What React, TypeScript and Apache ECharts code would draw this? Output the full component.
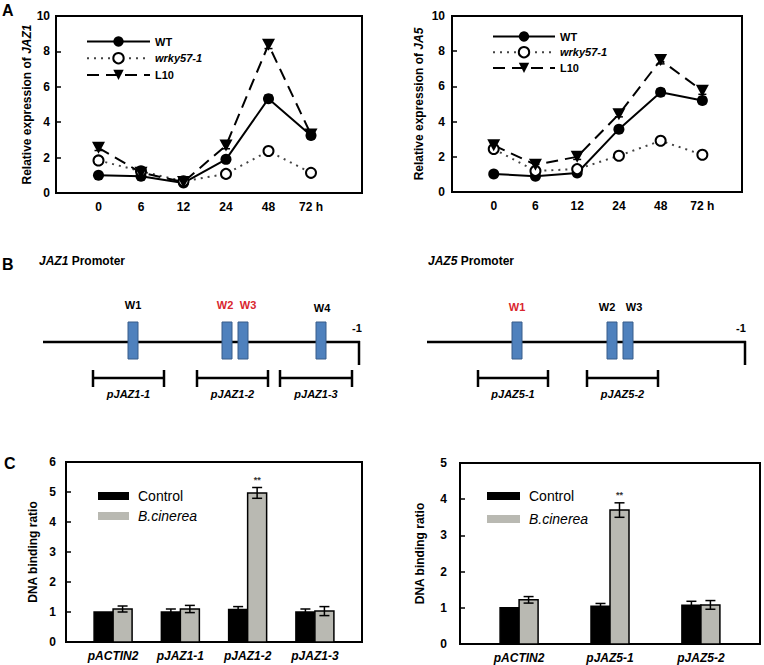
import React, { useEffect, useRef } from 'react';
import * as echarts from 'echarts';

const FONT = '"Liberation Sans", Arial, sans-serif';

// Panel A
const timeLabels = ['0', '6', '12', '24', '48', '72 h'];
const jaz1WT = [1.0, 0.95, 0.57, 1.9, 5.33, 3.25];
const jaz1WTErr = [0.05, 0.08, 0.06, 0.15, 0.2, 0.15];
const jaz1Wrky = [1.84, 1.23, 0.66, 1.08, 2.37, 1.14];
const jaz1WrkyErr = [0.2, 0.1, 0.05, 0.1, 0.18, 0.15];
const jaz1L10 = [2.55, 1.15, 0.62, 2.68, 8.38, 3.3];
const jaz1L10Err = [0.15, 0.1, 0.05, 0.18, 0.22, 0.15];

const jaz5WT = [1.02, 0.9, 1.08, 3.57, 5.67, 5.2];
const jaz5WTErr = [0.05, 0.06, 0.1, 0.12, 0.2, 0.18];
const jaz5Wrky = [2.44, 1.2, 1.3, 2.06, 2.91, 2.12];
const jaz5WrkyErr = [0.12, 0.12, 0.15, 0.08, 0.18, 0.15];
const jaz5L10 = [2.65, 1.55, 2.0, 4.42, 7.5, 5.75];
const jaz5L10Err = [0.15, 0.15, 0.15, 0.15, 0.22, 0.2];

// Panel C
const c1Categories = ['pACTIN2', 'pJAZ1-1', 'pJAZ1-2', 'pJAZ1-3'];
const c1Control = [1.0, 1.0, 1.08, 1.0];
const c1ControlErr = [0, 0.1, 0.1, 0.1];
const c1Bc = [1.1, 1.1, 4.97, 1.03];
const c1BcErr = [0.1, 0.12, 0.18, 0.15];
const c1Sig = ['', '', '**', ''];

const c2Categories = ['pACTIN2', 'pJAZ5-1', 'pJAZ5-2'];
const c2Control = [1.0, 1.04, 1.07];
const c2ControlErr = [0, 0.08, 0.11];
const c2Bc = [1.22, 3.7, 1.08];
const c2BcErr = [0.09, 0.2, 0.12];
const c2Sig = ['', '**', ''];

const TRI = 'path://M0,0L10,0L5,9Z';

function lineSeries(name: string, values: number[], idx: number, kind: string) {
  const base: any = {
    type: 'line',
    name,
    xAxisIndex: idx,
    yAxisIndex: idx,
    data: values.map((v, i) => [i, v]),
    z: 4,
    silent: true,
  };
  if (kind === 'wt') {
    return { ...base, symbol: 'circle', symbolSize: 11, itemStyle: { color: '#000' }, lineStyle: { color: '#000', width: 2, type: 'solid' } };
  }
  if (kind === 'wrky') {
    return { ...base, symbol: 'emptyCircle', symbolSize: 10, itemStyle: { color: '#000', borderWidth: 2 }, lineStyle: { color: '#444', width: 2, type: [2, 5] } };
  }
  return { ...base, symbol: TRI, symbolSize: [13, 12], itemStyle: { color: '#000' }, lineStyle: { color: '#000', width: 2, type: [12, 7] } };
}

function errSeries(values: number[], errs: number[], idx: number) {
  return {
    type: 'custom',
    xAxisIndex: idx,
    yAxisIndex: idx,
    silent: true,
    z: 3,
    data: values.map((v, i) => [i, v, errs[i]]),
    renderItem: (_p: any, api: any) => {
      const x = api.value(0), y = api.value(1), e = api.value(2);
      const hi = api.coord([x, y + e]);
      const lo = api.coord([x, y - e]);
      const w = 4;
      const st = { stroke: '#000', lineWidth: 1.5 };
      return {
        type: 'group',
        children: [
          { type: 'line', shape: { x1: hi[0], y1: hi[1], x2: lo[0], y2: lo[1] }, style: st },
          { type: 'line', shape: { x1: hi[0] - w, y1: hi[1], x2: hi[0] + w, y2: hi[1] }, style: st },
          { type: 'line', shape: { x1: lo[0] - w, y1: lo[1], x2: lo[0] + w, y2: lo[1] }, style: st },
        ],
      };
    },
  };
}

function barSeries(name: string, values: number[], errs: number[], sig: string[], idx: number, side: number, fill: string) {
  return {
    type: 'custom',
    name,
    xAxisIndex: idx,
    yAxisIndex: idx,
    silent: true,
    itemStyle: { color: fill },
    data: values.map((v, i) => [i, v, errs[i], i]),
    renderItem: (_p: any, api: any) => {
      const i = api.value(0), v = api.value(1), e = api.value(2);
      const base = api.coord([i, 0]);
      const top = api.coord([i, v]);
      const bw = 19;
      const x0 = side < 0 ? base[0] - bw : base[0];
      const cx = x0 + bw / 2;
      const children: any[] = [
        { type: 'rect', shape: { x: x0, y: top[1], width: bw, height: base[1] - top[1] }, style: { fill, stroke: '#000', lineWidth: 1.5 } },
      ];
      const st = { stroke: '#000', lineWidth: 1.5 };
      let topY = top[1];
      if (e > 0) {
        const hi = api.coord([i, v + e]);
        const lo = api.coord([i, v - e]);
        topY = hi[1];
        children.push(
          { type: 'line', shape: { x1: cx, y1: hi[1], x2: cx, y2: lo[1] }, style: st },
          { type: 'line', shape: { x1: cx - 5, y1: hi[1], x2: cx + 5, y2: hi[1] }, style: st },
          { type: 'line', shape: { x1: cx - 5, y1: lo[1], x2: cx + 5, y2: lo[1] }, style: st },
        );
      }
      const s = sig[Math.round(api.value(3))];
      if (s) {
        children.push({ type: 'text', x: cx, y: topY - 3, style: { text: s, fill: '#333', fontSize: 9, fontWeight: 'bold', fontFamily: FONT, align: 'center', verticalAlign: 'bottom' } });
      }
      return { type: 'group', children };
    },
  };
}

const axisLineStyle = { color: '#000', width: 2 };

function yAxisA(idx: number, name: string, nameGap: number, margin: number) {
  return {
    type: 'value', gridIndex: idx, min: 0, max: 10, interval: 2,
    axisLine: { show: true, onZero: false, lineStyle: axisLineStyle },
    axisTick: { show: true, inside: true, length: 5, lineStyle: { color: '#000', width: 1.5 } },
    splitLine: { show: false },
    axisLabel: { color: '#000', fontWeight: 'bold', fontSize: 12, fontFamily: FONT, margin },
    name, nameLocation: 'middle', nameGap,
    nameTextStyle: { color: '#000', fontWeight: 'bold', fontSize: 12, fontFamily: FONT, rich: { i: { color: '#000', fontWeight: 'bold', fontStyle: 'italic', fontSize: 12, fontFamily: FONT } } },
  };
}

function yAxisC(idx: number, max: number, nameGap: number, margin: number) {
  return {
    type: 'value', gridIndex: idx, min: 0, max, interval: 1,
    axisLine: { show: true, onZero: false, lineStyle: axisLineStyle },
    axisTick: { show: true, inside: true, length: 5, lineStyle: { color: '#000', width: 1.5 } },
    splitLine: { show: false },
    axisLabel: { color: '#000', fontWeight: 'bold', fontSize: 12, fontFamily: FONT, margin },
    name: 'DNA binding ratio', nameLocation: 'middle', nameGap,
    nameTextStyle: { color: '#000', fontWeight: 'bold', fontSize: 12, fontFamily: FONT },
  };
}

function labelFor(list: string[]) {
  return (v: number) => {
    const i = Math.round(v);
    if (Math.abs(v - i) < 1e-6 && i >= 0 && i < list.length) return list[i];
    return '';
  };
}

function xAxis(idx: number, min: number, max: number, interval: number, list: string[], italic: boolean) {
  return {
    type: 'value', gridIndex: idx, min, max, interval,
    axisLine: { show: true, onZero: false, lineStyle: axisLineStyle },
    axisTick: { show: false },
    splitLine: { show: false },
    axisLabel: { color: '#000', fontWeight: 'bold', fontStyle: italic ? 'italic' : 'normal', fontSize: 12, fontFamily: FONT, margin: 8, formatter: labelFor(list) },
  };
}

const gridBase = { show: true, borderColor: '#000', borderWidth: 2, backgroundColor: 'transparent', outerBoundsMode: 'none', containLabel: false };

function txt(x: number, y: number, text: string, opts: any = {}) {
  return {
    type: 'text', x, y,
    style: { text, fill: opts.fill || '#000', fontSize: opts.fontSize || 11, fontWeight: opts.fontWeight || 'bold', fontStyle: opts.fontStyle || 'normal', fontFamily: FONT, align: opts.align || 'center', verticalAlign: opts.verticalAlign || 'middle', rich: opts.rich },
  };
}

function ln(x1: number, y1: number, x2: number, y2: number, w = 2.5) {
  return { type: 'line', shape: { x1, y1, x2, y2 }, style: { stroke: '#000', lineWidth: w } };
}

function box(x: number) {
  return { type: 'rect', shape: { x, y: 322, width: 10, height: 37 }, style: { fill: '#4f81bd', stroke: '#385d8a', lineWidth: 1 } };
}

function bracket(x1: number, x2: number, label: string) {
  return [
    ln(x1, 378, x2, 378, 2.5),
    ln(x1, 370, x1, 387, 2.5),
    ln(x2, 370, x2, 387, 2.5),
    txt((x1 + x2) / 2, 394, label, { fontStyle: 'italic', fontSize: 11 }),
  ];
}

const RED = '#d9262e';
const promoterRich = { i: { fontStyle: 'italic', fontWeight: 'bold', fontSize: 12, fontFamily: FONT, fill: '#000' } };

const graphics: any[] = [
  txt(2, 2, 'A', { fontSize: 16, align: 'left', verticalAlign: 'top' }),
  txt(2, 256, 'B', { fontSize: 16, align: 'left', verticalAlign: 'top' }),
  txt(4, 455, 'C', { fontSize: 16, align: 'left', verticalAlign: 'top' }),
  // JAZ1 promoter
  txt(39, 261, '{i|JAZ1} Promoter', { fontSize: 12, align: 'left', rich: promoterRich }),
  ln(43, 342, 360, 342),
  ln(359, 341, 359, 365),
  box(128), box(222), box(238), box(316),
  txt(133, 305, 'W1'),
  txt(225, 305, 'W2', { fill: RED }),
  txt(248, 305, 'W3', { fill: RED }),
  txt(322, 308, 'W4'),
  txt(357, 328, '-1'),
  ...bracket(93, 164, 'pJAZ1-1'),
  ...bracket(197, 268, 'pJAZ1-2'),
  ...bracket(280, 352, 'pJAZ1-3'),
  // JAZ5 promoter
  txt(428, 261, '{i|JAZ5} Promoter', { fontSize: 12, align: 'left', rich: promoterRich }),
  ln(427, 342, 746, 342),
  ln(745, 341, 745, 365),
  box(512), box(607), box(623),
  txt(517, 307, 'W1', { fill: RED }),
  txt(607, 307, 'W2'),
  txt(634, 307, 'W3'),
  txt(741, 328, '-1'),
  ...bracket(478, 548, 'pJAZ5-1'),
  ...bracket(587, 658, 'pJAZ5-2'),
];

const legendTextA = { fontSize: 11, fontWeight: 'bold', color: '#000', fontFamily: FONT };
const legendDataA = [{ name: 'WT' }, { name: 'wrky57-1', textStyle: { fontStyle: 'italic' } }, { name: 'L10' }];
const legendDataC = [{ name: 'Control' }, { name: 'B.cinerea', textStyle: { fontStyle: 'italic' } }];
const legendTextC = { fontSize: 14, color: '#000', fontFamily: FONT, padding: [0, 0, 0, 4] };

const GRAY = '#b9b9b2';

export default function App() {
  const ref = useRef<HTMLDivElement>(null);
  useEffect(() => {
    if (!ref.current) return;
    const chart = echarts.init(ref.current, undefined, { renderer: 'svg' });
    const option: any = {
      animation: false,
      backgroundColor: '#fff',
      grid: [
        { ...gridBase, left: 56, top: 16, width: 306, height: 177 },
        { ...gridBase, left: 452, top: 16, width: 290, height: 176 },
        { ...gridBase, left: 66, top: 462, width: 296, height: 180 },
        { ...gridBase, left: 460, top: 463, width: 300, height: 181 },
      ],
      xAxis: [
        xAxis(0, -1, 6.2, 1, timeLabels, false),
        xAxis(1, -1, 5.95, 1, timeLabels, false),
        xAxis(2, -0.7, 3.7, 0.1, c1Categories, true),
        xAxis(3, -0.65, 2.65, 0.05, c2Categories, true),
      ],
      yAxis: [
        yAxisA(0, 'Relative expression of {i|JAZ1}', 17, 6),
        yAxisA(1, 'Relative expression of {i|JA5}', 27, 7),
        yAxisC(2, 6, 27, 10),
        yAxisC(3, 5, 34, 13),
      ],
      legend: [
        { orient: 'vertical', left: 86, top: 36, itemWidth: 63, itemHeight: 13, itemGap: 5, padding: 0, selectedMode: false, data: legendDataA, textStyle: legendTextA },
        { orient: 'vertical', left: 492, top: 31, itemWidth: 62, itemHeight: 13, itemGap: 4, padding: 0, selectedMode: false, data: legendDataA, textStyle: legendTextA },
        { orient: 'vertical', left: 98, top: 489, itemWidth: 31, itemHeight: 8, itemGap: 6, padding: 0, icon: 'rect', selectedMode: false, data: legendDataC, textStyle: legendTextC },
        { orient: 'vertical', left: 487, top: 489, itemWidth: 33, itemHeight: 8, itemGap: 9, padding: 0, icon: 'rect', selectedMode: false, data: legendDataC, textStyle: legendTextC },
      ],
      series: [
        errSeries(jaz1WT, jaz1WTErr, 0),
        errSeries(jaz1Wrky, jaz1WrkyErr, 0),
        errSeries(jaz1L10, jaz1L10Err, 0),
        lineSeries('WT', jaz1WT, 0, 'wt'),
        lineSeries('wrky57-1', jaz1Wrky, 0, 'wrky'),
        lineSeries('L10', jaz1L10, 0, 'l10'),
        errSeries(jaz5WT, jaz5WTErr, 1),
        errSeries(jaz5Wrky, jaz5WrkyErr, 1),
        errSeries(jaz5L10, jaz5L10Err, 1),
        lineSeries('WT', jaz5WT, 1, 'wt'),
        lineSeries('wrky57-1', jaz5Wrky, 1, 'wrky'),
        lineSeries('L10', jaz5L10, 1, 'l10'),
        barSeries('Control', c1Control, c1ControlErr, ['', '', '', ''], 2, -1, '#000'),
        barSeries('B.cinerea', c1Bc, c1BcErr, c1Sig, 2, 1, GRAY),
        barSeries('Control', c2Control, c2ControlErr, ['', '', ''], 3, -1, '#000'),
        barSeries('B.cinerea', c2Bc, c2BcErr, c2Sig, 3, 1, GRAY),
      ],
      graphic: { elements: graphics },
    };
    chart.setOption(option);
    return () => chart.dispose();
  }, []);
  return <div ref={ref} style={{ position: 'fixed', left: 0, top: 0, width: 764, height: 665, background: '#fff' }} />;
}
